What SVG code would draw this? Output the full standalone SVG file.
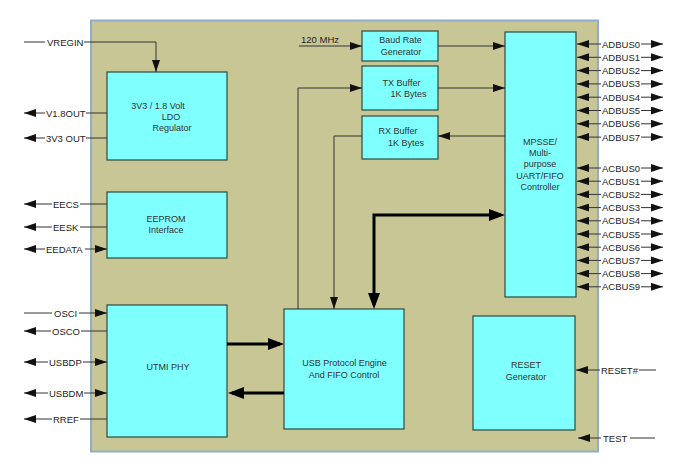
<svg xmlns="http://www.w3.org/2000/svg" width="691" height="458" viewBox="0 0 691 458">
<style>
.box{fill:#80ffff;stroke:#2e4a40;stroke-width:1.2}
.lbl{font-family:"Liberation Sans",Arial,sans-serif;font-size:9px;fill:#333;text-anchor:middle}
.pin{font-family:"Liberation Sans",Arial,sans-serif;font-size:9.5px;fill:#222}
.w{fill:none;stroke:#333;stroke-width:1}
.wa{fill:none;stroke:#333;stroke-width:1;marker-end:url(#ah)}
.wb{fill:none;stroke:#333;stroke-width:1;marker-end:url(#ah);marker-start:url(#ah)}
.tk{fill:none;stroke:#000;stroke-width:3;marker-end:url(#ahT)}
.tkb{fill:none;stroke:#000;stroke-width:3;marker-end:url(#ahT);marker-start:url(#ahT)}
</style>
<defs>
<marker id="ah" viewBox="0 0 12 8" refX="12" refY="4" markerWidth="12" markerHeight="8" markerUnits="userSpaceOnUse" orient="auto-start-reverse"><path d="M0,0 L12,4 L0,8 z" fill="#111"/></marker>
<marker id="ahT" viewBox="0 0 16 12" refX="12" refY="6" markerWidth="16" markerHeight="12" markerUnits="userSpaceOnUse" orient="auto-start-reverse"><path d="M0,0 L16,6 L0,12 z" fill="#000"/></marker>
</defs>
<rect width="691" height="458" fill="#fff"/>
<rect id="chip" x="91" y="20.5" width="507" height="431" fill="#c9c696" stroke="#8eaecb" stroke-width="2"/>

<g id="ldo"><rect class="box" x="107" y="72" width="120" height="88"/>
<text class="lbl" x="158" y="109">3V3 <tspan fill="#2040a0">/</tspan> 1.8 Volt</text>
<text class="lbl" x="171" y="120">LDO</text>
<text class="lbl" x="172" y="131">Regulator</text></g>

<g id="eeprom"><rect class="box" x="107" y="192" width="120" height="66"/>
<text class="lbl" x="166" y="222">EEPROM</text>
<text class="lbl" x="166" y="233">Interface</text></g>

<g id="utmi"><rect class="box" x="107" y="305" width="120" height="132"/>
<text class="lbl" x="168" y="370">UTMI PHY</text></g>

<g id="usb"><rect class="box" x="284" y="309" width="120" height="120"/>
<text class="lbl" x="344.5" y="366">USB Protocol Engine</text>
<text class="lbl" x="344" y="378">And FIFO Control</text></g>

<g id="reset"><rect class="box" x="473" y="316" width="102" height="114"/>
<text class="lbl" x="526" y="368">RESET</text>
<text class="lbl" x="526" y="380">Generator</text></g>

<g id="baud"><rect class="box" x="362" y="31" width="76" height="30"/>
<text class="lbl" x="400.5" y="43">Baud Rate</text>
<text class="lbl" x="401" y="55">Generator</text></g>

<g id="tx"><rect class="box" x="362" y="66" width="76" height="44"/>
<text class="lbl" x="401.5" y="86">TX Buffer</text>
<text class="lbl" x="408.5" y="97">1K Bytes</text></g>

<g id="rx"><rect class="box" x="362" y="116" width="76" height="43"/>
<text class="lbl" x="398" y="134">RX Buffer</text>
<text class="lbl" x="406" y="146">1K Bytes</text></g>

<g id="mpsse"><rect class="box" x="505" y="32" width="71" height="265"/>
<text class="lbl" x="540" y="145">MPSSE/</text>
<text class="lbl" x="540" y="156">Multi-</text>
<text class="lbl" x="540" y="167">purpose</text>
<text class="lbl" x="540" y="179">UART/FIFO</text>
<text class="lbl" x="540" y="190">Controller</text></g>

<g id="connectors">
<path class="wa" d="M84,42 H156 V72"/>
<path class="wa" d="M299,46 H362"/>
<path class="wa" d="M438,46 H505"/>
<path class="wa" d="M298,309 V88 H362"/>
<path class="wa" d="M438,88 H505"/>
<path class="wa" d="M505,136 H438"/>
<path class="wa" d="M362,136 H334 V309"/>
<path class="tk" d="M227,344 H280"/>
<path class="tk" d="M284,393 H232"/>
<path class="tkb" d="M374,305 V215 H501"/>
<!-- left pins -->
<path class="w" d="M24,42 H45"/>
<path class="wa" d="M45,113 H24"/><path class="w" d="M86,113 H107"/>
<path class="wa" d="M45,138 H24"/><path class="w" d="M86,138 H107"/>
<path class="wa" d="M52,204 H24"/><path class="w" d="M80,204 H107"/>
<path class="wa" d="M52,227 H24"/><path class="w" d="M80,227 H107"/>
<path class="wa" d="M45,249 H24"/><path class="wa" d="M85,249 H107"/>
<path class="w" d="M24,313 H52"/><path class="wa" d="M79,313 H107"/>
<path class="wa" d="M51,331 H24"/><path class="w" d="M81,331 H107"/>
<path class="wa" d="M48,362 H24"/><path class="wa" d="M83,362 H107"/>
<path class="wa" d="M48,393 H24"/><path class="wa" d="M84,393 H107"/>
<path class="wa" d="M52,419 H24"/><path class="w" d="M80,419 H107"/>
<!-- right pins -->
<path class="wa" d="M600,370 H576"/><path class="w" d="M639,370 H656"/>
<path class="wa" d="M601,438 H578"/><path class="w" d="M630,438 H655"/>
<g>
<path class="wa" d="M601,44 H577"/><path class="wa" d="M641,44 H663"/>
<path class="wa" d="M601,57.3 H577"/><path class="wa" d="M641,57.3 H663"/>
<path class="wa" d="M601,70.6 H577"/><path class="wa" d="M641,70.6 H663"/>
<path class="wa" d="M601,83.9 H577"/><path class="wa" d="M641,83.9 H663"/>
<path class="wa" d="M601,97.2 H577"/><path class="wa" d="M641,97.2 H663"/>
<path class="wa" d="M601,110.5 H577"/><path class="wa" d="M641,110.5 H663"/>
<path class="wa" d="M601,123.8 H577"/><path class="wa" d="M641,123.8 H663"/>
<path class="wa" d="M601,137.1 H577"/><path class="wa" d="M641,137.1 H663"/>
<path class="wa" d="M601,168 H577"/><path class="wa" d="M641,168 H663"/>
<path class="wa" d="M601,181.2 H577"/><path class="wa" d="M641,181.2 H663"/>
<path class="wa" d="M601,194.4 H577"/><path class="wa" d="M641,194.4 H663"/>
<path class="wa" d="M601,207.6 H577"/><path class="wa" d="M641,207.6 H663"/>
<path class="wa" d="M601,220.8 H577"/><path class="wa" d="M641,220.8 H663"/>
<path class="wa" d="M601,234 H577"/><path class="wa" d="M641,234 H663"/>
<path class="wa" d="M601,247.2 H577"/><path class="wa" d="M641,247.2 H663"/>
<path class="wa" d="M601,260.4 H577"/><path class="wa" d="M641,260.4 H663"/>
<path class="wa" d="M601,273.6 H577"/><path class="wa" d="M641,273.6 H663"/>
<path class="wa" d="M601,286.8 H577"/><path class="wa" d="M641,286.8 H663"/>
</g>
</g>

<g id="pins">
<text class="pin" x="47" y="45.5">VREGIN</text>
<text class="pin" x="46" y="116.5">V1.8OUT</text>
<text class="pin" x="46" y="141.5">3V3 OUT</text>
<text class="pin" x="53" y="207.5">EECS</text>
<text class="pin" x="53" y="230.5">EESK</text>
<text class="pin" x="46" y="252.5">EEDATA</text>
<text class="pin" x="54" y="316.5">OSCI</text>
<text class="pin" x="52" y="334.5">OSCO</text>
<text class="pin" x="49" y="365.5">USBDP</text>
<text class="pin" x="49" y="396.5">USBDM</text>
<text class="pin" x="53" y="422.5">RREF</text>
<text class="pin" x="301" y="43" font-size="9">120 MHz</text>
<text class="pin" x="601" y="373.5">RESET#</text>
<text class="pin" x="603" y="441.5">TEST</text>
<text class="pin" x="602" y="47.5">ADBUS0</text>
<text class="pin" x="602" y="60.8">ADBUS1</text>
<text class="pin" x="602" y="74.1">ADBUS2</text>
<text class="pin" x="602" y="87.4">ADBUS3</text>
<text class="pin" x="602" y="100.7">ADBUS4</text>
<text class="pin" x="602" y="114">ADBUS5</text>
<text class="pin" x="602" y="127.3">ADBUS6</text>
<text class="pin" x="602" y="140.6">ADBUS7</text>
<text class="pin" x="602" y="171.5">ACBUS0</text>
<text class="pin" x="602" y="184.7">ACBUS1</text>
<text class="pin" x="602" y="197.9">ACBUS2</text>
<text class="pin" x="602" y="211.1">ACBUS3</text>
<text class="pin" x="602" y="224.3">ACBUS4</text>
<text class="pin" x="602" y="237.5">ACBUS5</text>
<text class="pin" x="602" y="250.7">ACBUS6</text>
<text class="pin" x="602" y="263.9">ACBUS7</text>
<text class="pin" x="602" y="277.1">ACBUS8</text>
<text class="pin" x="602" y="290.3">ACBUS9</text>
</g>
</svg>
